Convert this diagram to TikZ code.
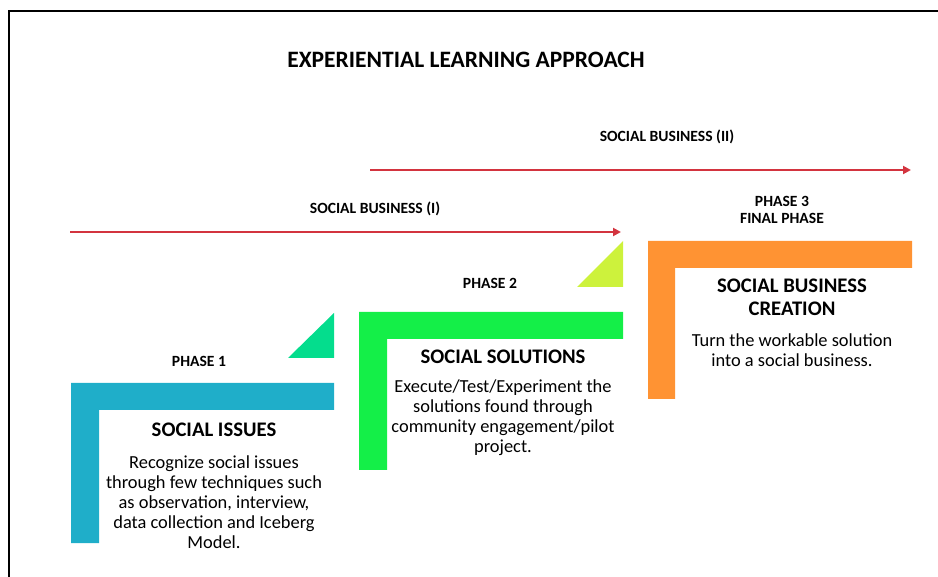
\documentclass[tikz,border=0pt]{standalone}
\usepackage{fontspec}
\setmainfont{Carlito}
\usetikzlibrary{arrows.meta}
\definecolor{arrowred}{HTML}{D3343F}
\definecolor{issueblue}{HTML}{1FAEC9}
\definecolor{solutiongreen}{HTML}{14EF48}
\definecolor{creationorange}{HTML}{FF9333}
\definecolor{wedgeteal}{HTML}{04DD8D}
\definecolor{wedgelime}{HTML}{CDF23C}
\begin{document}
\begin{tikzpicture}[x=1pt,y=-1pt,
	label/.style={font=\fontsize{15.6}{16.5}\selectfont\bfseries, align=center, inner sep=0pt},
	heading/.style={font=\fontsize{20.7}{23}\selectfont\bfseries, align=center, inner sep=0pt},
	body/.style={font=\fontsize{18.4}{20}\selectfont, align=center, inner sep=0pt},
	redarrow/.style={draw=arrowred, line width=2.3pt, -{Triangle[length=8pt,width=8pt]}}]
	\useasboundingbox (0,0) rectangle (938,577);
	% frame
	\draw[line width=2pt] (9,577) -- (9,11) -- (938,11);
	\node[font=\fontsize{23.5}{26}\selectfont\bfseries, inner sep=0pt] (title) at (466,60) {EXPERIENTIAL LEARNING APPROACH};
	% business arrows
	\coordinate (sbtwo start) at (370,170);
	\coordinate (sbtwo end) at (911,170);
	\coordinate (sbone start) at (70,232);
	\coordinate (sbone end) at (621,232);
	\draw[redarrow] (sbtwo start) -- (sbtwo end);
	\draw[redarrow] (sbone start) -- (sbone end);
	\node[label] (sbtwo) at (667,137) {SOCIAL BUSINESS (II)};
	\node[label] (sbone) at (375,209) {SOCIAL BUSINESS (I)};
	% steps
	\fill[issueblue] (71,383) -- (334,383) -- (334,410) -- (99,410) -- (99,543) -- (71,543) -- cycle;
	\fill[solutiongreen] (359,312) -- (623,312) -- (623,339) -- (387,339) -- (387,470) -- (359,470) -- cycle;
	\fill[creationorange] (648,241) -- (912,241) -- (912,268) -- (675,268) -- (675,399) -- (648,399) -- cycle;
	\fill[wedgeteal] (288,358) -- (334,358) -- (334,313) -- cycle;
	\fill[wedgelime] (577,287) -- (623,287) -- (623,241) -- cycle;
	% phase labels
	\node[label] (phaseone) at (199,361) {PHASE 1};
	\node[label] (phasetwo) at (490,283) {PHASE 2};
	\node[label] (phasethree) at (782,210) {PHASE 3\\FINAL PHASE};
	% phase texts
	\node[heading] (issues) at (214,430) {SOCIAL ISSUES};
	\node[body] (issuestext) at (214,502) {Recognize social issues\\through few techniques such\\as observation, interview,\\data collection and Iceberg\\Model.};
	\node[heading] (solutions) at (503,357) {SOCIAL SOLUTIONS};
	\node[body] (solutionstext) at (503,418) {Execute/Test/Experiment the\\solutions found through\\community engagement/pilot\\project.};
	\node[heading] (creation) at (792,297) {SOCIAL BUSINESS\\CREATION};
	\node[body] (creationtext) at (792,350) {Turn the workable solution\\into a social business.};
\end{tikzpicture}
\end{document}
